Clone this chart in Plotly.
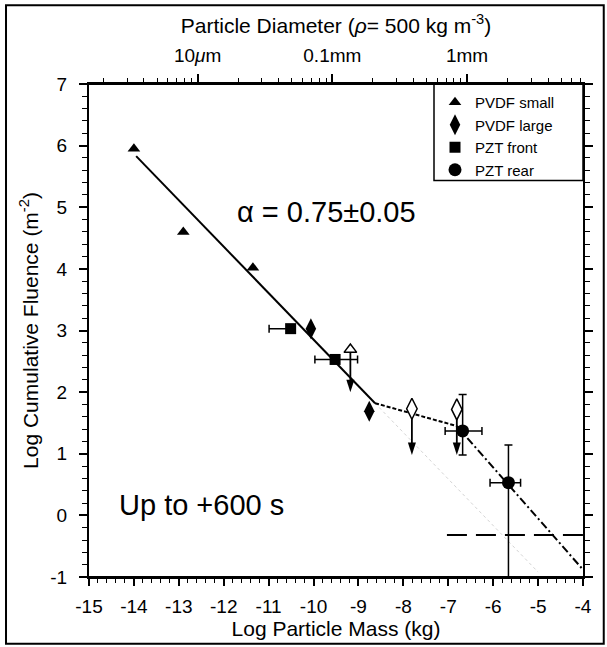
import math
import plotly.graph_objects as go

# ---------------- data ----------------
RHO = 500.0  # kg m^-3, for diameter axis

pvdf_small_x = [-14.0, -12.9, -11.35]
pvdf_small_y = [5.95, 4.60, 4.02]
pvdf_small_lim_x = [-9.18]
pvdf_small_lim_y = [2.69]
pvdf_small_lim_tip = [2.0]

pvdf_large_x = [-10.06, -8.76]
pvdf_large_y = [3.03, 1.69]
pvdf_large_lim_x = [-7.81, -6.81]
pvdf_large_lim_y = [1.73, 1.72]
pvdf_large_lim_tip = [0.98, 0.98]

pzt_front_x = [-10.51, -9.52]
pzt_front_y = [3.03, 2.53]
pzt_front_xerr_minus = [0.48, 0.45]
pzt_front_xerr_plus = [0.0, 0.50]

pzt_rear_x = [-6.68, -5.66]
pzt_rear_y = [1.37, 0.53]
pzt_rear_xerr_minus = [0.39, 0.41]
pzt_rear_xerr_plus = [0.43, 0.27]
pzt_rear_yerr_minus = [0.39, 1.70]
pzt_rear_yerr_plus = [0.59, 0.61]

fit_steep_x = [-13.95, -8.63]
fit_steep_y = [5.83, 1.82]
fit_flat_x = [-8.63, -6.81]
fit_flat_y = [1.82, 1.45]
fit_tail_x = [-6.81, -4.0]
fit_tail_y = [1.45, -0.88]
fit_extrap_x = [-8.63, -5.0]
fit_extrap_y = [1.82, -0.92]
threshold_x = [-7.03, -4.0]
threshold_y = [-0.32, -0.32]

x_ticks = [-15, -14, -13, -12, -11, -10, -9, -8, -7, -6, -5, -4]
y_ticks = [-1, 0, 1, 2, 3, 4, 5, 6, 7]

diam_major_m = [1e-5, 1e-4, 1e-3]
diam_major_text = ["10<i>μ</i>m", "0.1mm", "1mm"]
diam_decades_m = [1e-6, 1e-5, 1e-4, 1e-3]
diam_minor_mult = [2, 3, 4, 5, 6, 7, 8, 9]

x_range = [-15, -4]
y_range = [-1, 7]


def log_mass(d):
    return math.log10(RHO * math.pi / 6.0 * d ** 3)


major_pos = [log_mass(d) for d in diam_major_m]
minor_pos = [log_mass(dec * k) for dec in diam_decades_m for k in diam_minor_mult]
minor_pos = [p for p in minor_pos if x_range[0] <= p <= x_range[1]]

FONT = "Liberation Sans, Arial, Helvetica, sans-serif"
BLACK = "black"

fig = go.Figure()

# fit lines
fig.add_trace(go.Scatter(x=fit_extrap_x, y=fit_extrap_y, mode="lines",
                         line=dict(color="#d4d4d4", width=1, dash="dot"),
                         showlegend=False, hoverinfo="skip"))
fig.add_trace(go.Scatter(x=fit_steep_x, y=fit_steep_y, mode="lines",
                         line=dict(color=BLACK, width=2),
                         showlegend=False, hoverinfo="skip"))
fig.add_trace(go.Scatter(x=fit_flat_x, y=fit_flat_y, mode="lines",
                         line=dict(color=BLACK, width=2, dash="4px,2px"),
                         showlegend=False, hoverinfo="skip"))
fig.add_trace(go.Scatter(x=fit_tail_x, y=fit_tail_y, mode="lines",
                         line=dict(color=BLACK, width=2, dash="8px,3px,2px,3px"),
                         showlegend=False, hoverinfo="skip"))
fig.add_trace(go.Scatter(x=threshold_x, y=threshold_y, mode="lines",
                         line=dict(color=BLACK, width=2, dash="20px,9px"),
                         showlegend=False, hoverinfo="skip"))

# upper-limit arrows (stems + heads)
lim_x = pvdf_small_lim_x + pvdf_large_lim_x
lim_top = pvdf_small_lim_y + pvdf_large_lim_y
lim_tip = pvdf_small_lim_tip + pvdf_large_lim_tip
stem_x, stem_y = [], []
for xv, yt, yb in zip(lim_x, lim_top, lim_tip):
    stem_x += [xv, xv, None]
    stem_y += [yt, yb + 0.1, None]
fig.add_trace(go.Scatter(x=stem_x, y=stem_y, mode="lines",
                         line=dict(color=BLACK, width=1.8),
                         showlegend=False, hoverinfo="skip"))
fig.add_trace(go.Scatter(x=lim_x, y=lim_tip, mode="markers",
                         marker=dict(symbol="arrow", angle=180, size=13, color=BLACK,
                                     line=dict(width=0)),
                         showlegend=False, hoverinfo="skip"))

# open (limit) markers
fig.add_trace(go.Scatter(x=pvdf_small_lim_x, y=pvdf_small_lim_y, mode="markers",
                         marker=dict(symbol="triangle-up", size=11, color="white",
                                     line=dict(color=BLACK, width=1.5)),
                         showlegend=False))
fig.add_trace(go.Scatter(x=pvdf_large_lim_x, y=pvdf_large_lim_y, mode="markers",
                         marker=dict(symbol="diamond-tall", size=15, color="white",
                                     line=dict(color=BLACK, width=1.5)),
                         showlegend=False))

# filled markers
fig.add_trace(go.Scatter(x=pvdf_small_x, y=pvdf_small_y, mode="markers", name="PVDF small",
                         marker=dict(symbol="triangle-up", size=11, color=BLACK)))
fig.add_trace(go.Scatter(x=pvdf_large_x, y=pvdf_large_y, mode="markers", name="PVDF large",
                         marker=dict(symbol="diamond-tall", size=15, color=BLACK)))
fig.add_trace(go.Scatter(x=pzt_front_x, y=pzt_front_y, mode="markers", name="PZT front",
                         marker=dict(symbol="square", size=11, color=BLACK),
                         error_x=dict(type="data", array=pzt_front_xerr_plus,
                                      arrayminus=pzt_front_xerr_minus, symmetric=False,
                                      color=BLACK, thickness=1.5, width=4)))
fig.add_trace(go.Scatter(x=pzt_rear_x, y=pzt_rear_y, mode="markers", name="PZT rear",
                         marker=dict(symbol="circle", size=13, color=BLACK),
                         error_x=dict(type="data", array=pzt_rear_xerr_plus,
                                      arrayminus=pzt_rear_xerr_minus, symmetric=False,
                                      color=BLACK, thickness=1.5, width=4),
                         error_y=dict(type="data", array=pzt_rear_yerr_plus,
                                      arrayminus=pzt_rear_yerr_minus, symmetric=False,
                                      color=BLACK, thickness=1.5, width=4)))

# top axis carrier trace
fig.add_trace(go.Scatter(x=x_range, y=y_range, mode="markers", xaxis="x2",
                         marker=dict(opacity=0), showlegend=False, hoverinfo="skip"))

tickfont = dict(family=FONT, size=19, color=BLACK)
titlefont = dict(family=FONT, size=21, color=BLACK)

# legend frame (pixels -> paper fractions of the plot area)
PLOT_W, PLOT_H = 494.0, 495.0
leg_x0 = 1 - 149 / PLOT_W
leg_y0 = 1 - 97 / PLOT_H

fig.update_layout(
    width=607, height=647,
    margin=dict(l=89, r=24, t=84, b=68),
    paper_bgcolor="white", plot_bgcolor="white",
    font=dict(family=FONT, color=BLACK),
    xaxis=dict(range=x_range, tickmode="array", tickvals=x_ticks,
               ticktext=[str(v) for v in x_ticks], ticks="outside", ticklen=7, tickwidth=1.5,
               tickcolor=BLACK, showline=True, linecolor=BLACK, linewidth=2,
               showgrid=False, zeroline=False, tickfont=tickfont, ticklabelstandoff=4,
               minor=dict(dtick=0.2, tick0=-15, ticks="outside", ticklen=4, tickwidth=1,
                          tickcolor=BLACK),
               title=dict(text="Log Particle Mass (kg)", font=titlefont, standoff=4)),
    xaxis2=dict(range=x_range, overlaying="x", side="top", tickmode="array",
                tickvals=major_pos, ticktext=diam_major_text, ticks="outside", ticklen=8,
                tickwidth=1.5, tickcolor=BLACK, showline=True, linecolor=BLACK, linewidth=2,
                showgrid=False, zeroline=False, tickfont=tickfont, ticklabelstandoff=4,
                minor=dict(tickmode="array", tickvals=minor_pos, ticks="outside", ticklen=4,
                           tickwidth=1, tickcolor=BLACK),
                title=dict(text="Particle Diameter (<i>ρ</i>= 500 kg m<sup>-3</sup>)",
                           font=titlefont, standoff=6)),
    yaxis=dict(range=y_range, tickmode="array", tickvals=y_ticks,
               ticktext=[str(v) for v in y_ticks], ticks="outside", ticklen=8, tickwidth=1.5,
               tickcolor=BLACK, showline=True, linecolor=BLACK, linewidth=2, mirror="ticks",
               showgrid=False, zeroline=False, tickfont=tickfont, ticklabelstandoff=8,
               minor=dict(dtick=0.2, tick0=0, ticks="outside", ticklen=5, tickwidth=1,
                          tickcolor=BLACK),
               title=dict(text="Log Cumulative Fluence (m<sup>-2</sup>)", font=titlefont,
                          standoff=6)),
    legend=dict(x=leg_x0 + 1 / PLOT_W, y=1 - 2 / PLOT_H, xanchor="left", yanchor="top",
                bgcolor="rgba(0,0,0,0)", borderwidth=0,
                font=dict(family=FONT, size=15, color=BLACK),
                itemsizing="trace", tracegroupgap=0),
    annotations=[
        dict(text="α = 0.75±0.05", x=-9.71, y=4.92, xref="x", yref="y", showarrow=False,
             font=dict(family=FONT, size=29, color=BLACK)),
        dict(text="Up to +600 s", x=-12.5, y=0.17, xref="x", yref="y", showarrow=False,
             font=dict(family=FONT, size=29, color=BLACK)),
    ],
    shapes=[
        dict(type="rect", xref="paper", yref="paper", x0=leg_x0, x1=1, y0=leg_y0, y1=1,
             fillcolor="white", line=dict(color=BLACK, width=1.5), layer="below"),
        dict(type="rect", xref="paper", yref="paper", x0=-0.168, x1=1.042, y0=-0.1354,
             y1=1.1596, line=dict(color=BLACK, width=2), layer="above"),
        dict(type="line", xref="paper", yref="paper", x0=-0.017, x1=1.02, y0=0, y1=0,
             line=dict(color=BLACK, width=2)),
        dict(type="line", xref="paper", yref="paper", x0=-0.017, x1=1.02, y0=1, y1=1,
             line=dict(color=BLACK, width=2)),
    ],
)

fig.write_html("out.html")
